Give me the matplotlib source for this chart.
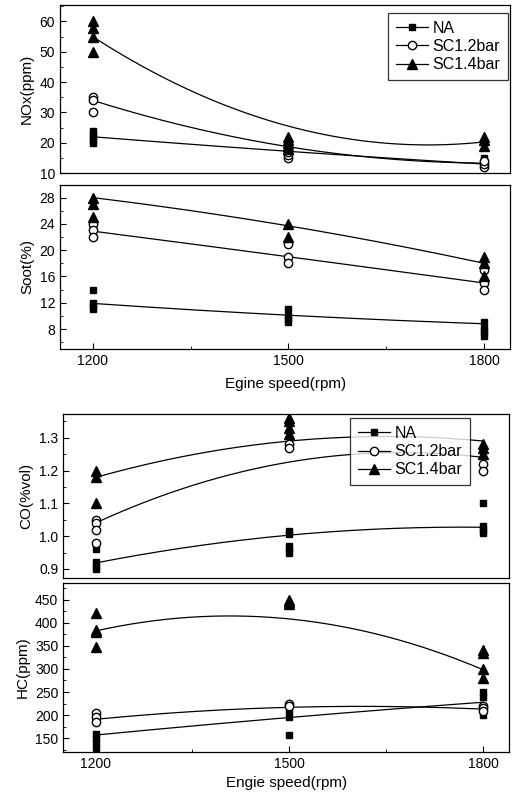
import numpy as np
import matplotlib
matplotlib.use('Agg')
import matplotlib.pyplot as plt
from matplotlib.ticker import MultipleLocator, AutoMinorLocator

plt.rcParams['font.family'] = ['Liberation Sans', 'DejaVu Sans']

speeds = [1200, 1500, 1800]
series = ['NA', 'SC1.2bar', 'SC1.4bar']

# measured points (rpm, value)
nox_pts = {
	'NA': [(1200, 20), (1200, 21), (1200, 22), (1200, 23), (1200, 24),
		   (1500, 17), (1500, 18), (1800, 13), (1800, 14), (1800, 15)],
	'SC1.2bar': [(1200, 35), (1200, 34), (1200, 30),
				 (1500, 15), (1500, 16), (1500, 17),
				 (1800, 12), (1800, 13), (1800, 14)],
	'SC1.4bar': [(1200, 60), (1200, 58), (1200, 55), (1200, 50),
				 (1500, 22), (1500, 21), (1500, 20), (1500, 19), (1500, 18),
				 (1800, 22), (1800, 21), (1800, 19)],
}
soot_pts = {
	'NA': [(1200, 14), (1200, 12), (1200, 11.5), (1200, 11),
		   (1500, 11), (1500, 10), (1500, 9.5), (1500, 9),
		   (1800, 9), (1800, 8), (1800, 7.5), (1800, 7)],
	'SC1.2bar': [(1200, 24), (1200, 23), (1200, 22),
				 (1500, 21), (1500, 19), (1500, 18),
				 (1800, 17), (1800, 15), (1800, 14)],
	'SC1.4bar': [(1200, 28), (1200, 27), (1200, 25),
				 (1500, 24), (1500, 22),
				 (1800, 19), (1800, 18), (1800, 16)],
}
co_pts = {
	'NA': [(1200, 0.96), (1200, 0.92), (1200, 0.91), (1200, 0.90),
		   (1500, 1.015), (1500, 1.005), (1500, 0.97), (1500, 0.96), (1500, 0.95),
		   (1800, 1.10), (1800, 1.03), (1800, 1.02), (1800, 1.01)],
	'SC1.2bar': [(1200, 1.05), (1200, 1.04), (1200, 1.02), (1200, 0.98),
				 (1500, 1.28), (1500, 1.27),
				 (1800, 1.22), (1800, 1.20)],
	'SC1.4bar': [(1200, 1.20), (1200, 1.18), (1200, 1.10),
				 (1500, 1.36), (1500, 1.35), (1500, 1.33), (1500, 1.31),
				 (1800, 1.28), (1800, 1.27), (1800, 1.25)],
}
hc_pts = {
	'NA': [(1200, 160), (1200, 150), (1200, 140), (1200, 130),
		   (1500, 210), (1500, 195), (1500, 158),
		   (1800, 250), (1800, 240), (1800, 220), (1800, 200)],
	'SC1.2bar': [(1200, 205), (1200, 195), (1200, 185),
				 (1500, 225), (1500, 220),
				 (1800, 220), (1800, 215), (1800, 210)],
	'SC1.4bar': [(1200, 420), (1200, 385), (1200, 380), (1200, 348),
				 (1500, 450), (1500, 445), (1500, 440),
				 (1800, 340), (1800, 335), (1800, 300), (1800, 280)],
}

# fitted curve values at 1200/1500/1800
nox_fit = {'NA': [22, 17.2, 13], 'SC1.2bar': [34, 18.7, 13.3], 'SC1.4bar': [55, 25.5, 20.3]}
soot_fit = {'NA': [11.9, 10.1, 8.8], 'SC1.2bar': [22.9, 19, 15], 'SC1.4bar': [28, 23.7, 18]}
co_fit = {'NA': [0.918, 1.003, 1.027], 'SC1.2bar': [1.04, 1.226, 1.24], 'SC1.4bar': [1.179, 1.29, 1.29]}
hc_fit = {'NA': [157, 195, 228], 'SC1.2bar': [191, 217, 213], 'SC1.4bar': [382, 408, 298]}

markers = {'NA': dict(marker='s', mfc='black', mec='black', ms=5),
		   'SC1.2bar': dict(marker='o', mfc='white', mec='black', ms=6, mew=1.0),
		   'SC1.4bar': dict(marker='^', mfc='black', mec='black', ms=6.5)}


def draw(ax, pts, fit, ylim, major, minor_n, show_x):
	xs = np.linspace(1200, 1800, 200)
	for name in series:
		px, py = zip(*pts[name])
		ax.plot(px, py, linestyle='none', zorder=3, **markers[name])
		c = np.polyfit(speeds, fit[name], 2)
		ax.plot(xs, np.polyval(c, xs), color='black', linewidth=0.9, zorder=2)
	ax.set_xlim(1150, 1840)
	ax.set_ylim(*ylim)
	ax.set_xticks(speeds)
	ax.xaxis.set_minor_locator(MultipleLocator(150))
	ax.yaxis.set_major_locator(MultipleLocator(major))
	ax.yaxis.set_minor_locator(AutoMinorLocator(minor_n))
	ax.tick_params(which='both', direction='in', labelsize=10)
	ax.tick_params(which='major', length=4)
	ax.tick_params(which='minor', length=2)
	ax.tick_params(axis='x', which='both', top=False)
	ax.tick_params(axis='y', which='both', right=False)
	if not show_x:
		ax.tick_params(axis='x', which='both', bottom=False, labelbottom=False)
	for s in ax.spines.values():
		s.set_linewidth(0.9)


def legend(ax, loc, anchor):
	handles = [plt.Line2D([], [], color='black', linewidth=0.9, **markers[n]) for n in series]
	lg = ax.legend(handles, series, loc=loc, bbox_to_anchor=anchor, frameon=True,
				   fancybox=False, edgecolor='black', fontsize=11.5, handlelength=2.0,
				   handletextpad=0.3, borderpad=0.5, labelspacing=0.2,
				   borderaxespad=0.0)
	lg.get_frame().set_linewidth(0.9)
	lg.set_zorder(5)


fig = plt.figure(figsize=(5.18, 7.98), dpi=100)

ax1 = fig.add_axes([0.116, 0.783, 0.869, 0.211])
draw(ax1, nox_pts, nox_fit, (10, 65.5), 10, 2, False)
ax1.set_ylabel('NOx(ppm)', fontsize=11)
legend(ax1, 'upper right', (0.996, 0.952))

ax2 = fig.add_axes([0.116, 0.563, 0.869, 0.205])
draw(ax2, soot_pts, soot_fit, (5, 29.9), 4, 2, True)
ax2.set_ylabel('Soot(%)', fontsize=11)
ax2.set_xlabel('Egine speed(rpm)', fontsize=11, labelpad=7)

ax3 = fig.add_axes([0.122, 0.276, 0.861, 0.205])
draw(ax3, co_pts, co_fit, (0.873, 1.372), 0.1, 2, False)
ax3.set_ylabel('CO(%vol)', fontsize=11)
legend(ax3, 'upper left', (0.643, 0.976))

ax4 = fig.add_axes([0.122, 0.058, 0.861, 0.211])
draw(ax4, hc_pts, hc_fit, (121, 485), 50, 2, True)
ax4.set_ylabel('HC(ppm)', fontsize=11)
ax4.set_xlabel('Engie speed(rpm)', fontsize=11)

fig.savefig('out.png', dpi=100)
